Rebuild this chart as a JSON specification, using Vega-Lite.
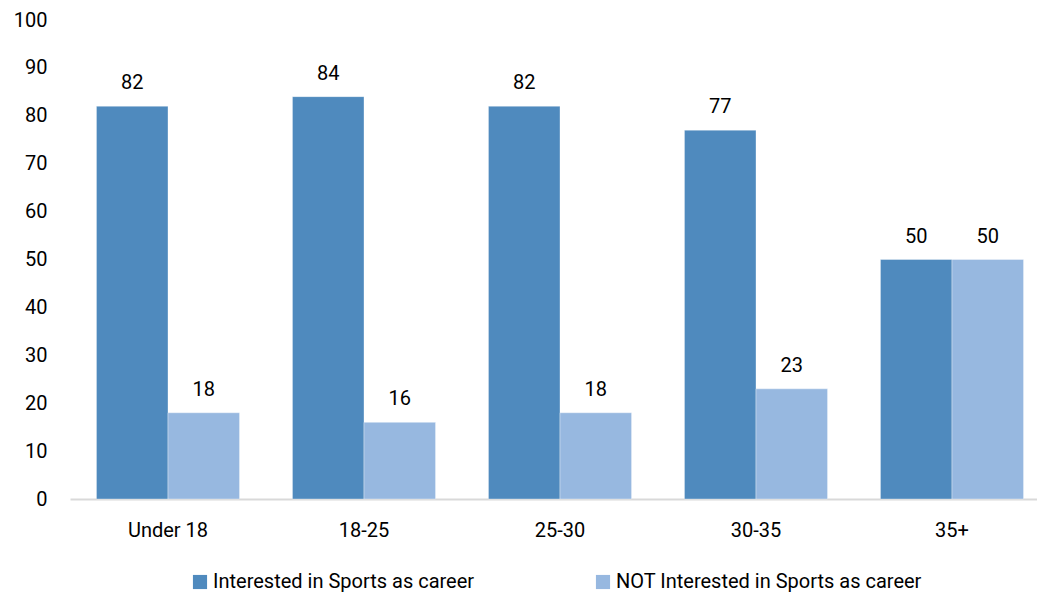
{
  "$schema": "https://vega.github.io/schema/vega-lite/v6.json",
  "width": 966,
  "height": 479,
  "autosize": {"type": "none"},
  "padding": {"left": 70, "top": 20, "right": 1, "bottom": 96},
  "config": {
    "view": {"stroke": null},
    "font": "Roboto",
    "text": {"font": "Roboto"}
  },
  "data": {
    "values": [
      {"age": "Under 18", "group": "Interested in Sports as career", "pct": 82},
      {"age": "Under 18", "group": "NOT Interested in Sports as career", "pct": 18},
      {"age": "18-25", "group": "Interested in Sports as career", "pct": 84},
      {"age": "18-25", "group": "NOT Interested in Sports as career", "pct": 16},
      {"age": "25-30", "group": "Interested in Sports as career", "pct": 82},
      {"age": "25-30", "group": "NOT Interested in Sports as career", "pct": 18},
      {"age": "30-35", "group": "Interested in Sports as career", "pct": 77},
      {"age": "30-35", "group": "NOT Interested in Sports as career", "pct": 23},
      {"age": "35+", "group": "Interested in Sports as career", "pct": 50},
      {"age": "35+", "group": "NOT Interested in Sports as career", "pct": 50}
    ]
  },
  "encoding": {
    "x": {
      "field": "age",
      "type": "nominal",
      "sort": null,
      "scale": {"range": [0, 980], "paddingInner": 0.27, "paddingOuter": 0.135},
      "axis": {
        "title": null,
        "labelAngle": 0,
        "labelFontSize": 20,
        "labelColor": "#000000",
        "labelPadding": 21,
        "ticks": false,
        "domainColor": "#d9d9d9",
        "domainWidth": 2
      }
    },
    "xOffset": {"field": "group", "type": "nominal", "scale": {"paddingInner": 0, "paddingOuter": 0}},
    "y": {
      "field": "pct",
      "type": "quantitative",
      "scale": {"domain": [0, 100], "nice": false},
      "axis": {
        "title": null,
        "values": [0, 10, 20, 30, 40, 50, 60, 70, 80, 90, 100],
        "grid": false,
        "domain": false,
        "ticks": false,
        "labelFontSize": 20,
        "labelColor": "#000000",
        "labelPadding": 23
      }
    }
  },
  "layer": [
    {
      "mark": {"type": "bar", "stroke": "#ffffff", "strokeOpacity": 0.35, "strokeWidth": 1},
      "encoding": {
        "color": {
          "field": "group",
          "type": "nominal",
          "scale": {
            "domain": ["Interested in Sports as career", "NOT Interested in Sports as career"],
            "range": ["#4f8abe", "#97b8e0"]
          },
          "legend": {
            "title": null,
            "orient": "none",
            "direction": "horizontal",
            "legendX": 120,
            "legendY": 552,
            "symbolType": "square",
            "symbolSize": 200,
            "symbolStrokeWidth": 0,
            "symbolOpacity": 1,
            "labelFontSize": 20,
            "labelColor": "#000000",
            "labelOffset": 3,
            "labelLimit": 400,
            "columnPadding": 118
          }
        }
      }
    },
    {
      "mark": {"type": "text", "baseline": "alphabetic", "dy": -17, "fontSize": 20, "color": "#000000"},
      "encoding": {"text": {"field": "pct", "type": "quantitative"}}
    }
  ]
}
